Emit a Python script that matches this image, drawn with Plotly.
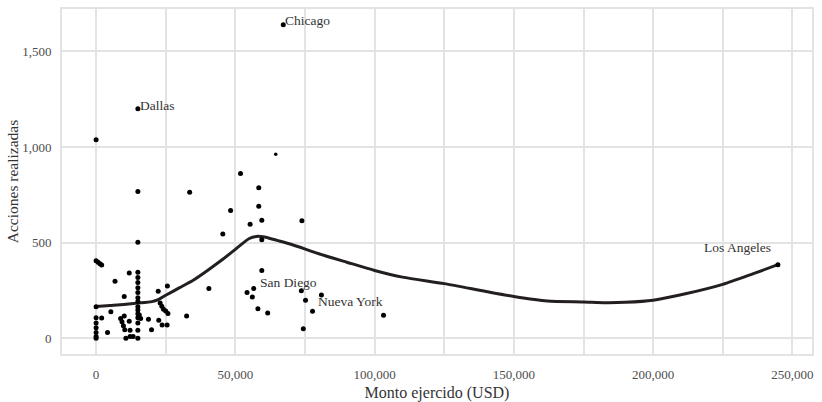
import plotly.graph_objects as go

# Scatter data: monto ejercido (USD) vs acciones realizadas
monto = [
    0, 0, 700, 1400, 2000, 0, 0, 0, 0, 0, 0, 0,
    2000, 4100, 5300, 6800, 10100, 11900,
    8800, 9300, 9800, 10300, 10100, 11900, 12200, 10700, 12200, 13300,
    15000, 15000, 15000, 15000, 15000, 15000, 15000, 15000, 15000, 15000,
    15000, 15000, 15000, 15000, 15000, 15000, 15000,
    15500, 16000,
    18800, 19900, 22500, 22300, 23700, 25500, 25600,
    23000, 23600, 24200, 25000, 25800,
    32500, 33600, 40500, 45500, 48300, 51850, 55300, 54200, 56600, 56100,
    58400, 58400, 59500, 59500, 59500, 58100, 61600, 67200,
    73900, 73700, 75200, 80900, 77700, 74400, 103200, 244800,
]
acciones = [
    1038, 405, 398, 390, 383, 165, 108, 80, 55, 30, 10, 0,
    106, 30, 139, 299, 219, 341,
    103, 86, 66, 45, 117, 89, 42, 0, 10, 10,
    1200, 768, 502, 345, 318, 292, 265, 240, 212, 192,
    165, 148, 128, 108, 80, 42, 0,
    122, 103,
    100, 45, 94, 246, 70, 70, 273,
    185, 168, 152, 143, 130,
    117, 764, 261, 545, 669, 862, 596, 239, 261, 216,
    787, 690, 618, 516, 355, 155, 132, 1640,
    615, 249, 199, 226, 141, 50, 120, 385,
]
# one smaller point
monto_small = [64500]
acciones_small = [963]

# Smoothed trend
smooth_x = [0, 5000, 10000, 15000, 20000, 22500, 25000, 30000, 35000, 40000,
            45000, 50000, 55000, 57500, 60000, 65000, 70000, 80000, 90000,
            100000, 110000, 125000, 140000, 150000, 162000, 175000, 183000,
            190000, 200000, 212000, 225000, 236000, 244800]
smooth_y = [167, 172, 177, 184, 192, 204, 225, 265, 305, 355,
            408, 465, 522, 533, 531, 512, 492, 442, 398,
            355, 320, 286, 245, 219, 195, 190, 186,
            188, 199, 234, 282, 338, 385]

# Labelled cities
ciudades = ["Chicago", "Dallas", "San Diego", "Nueva York", "Los Angeles"]
ciudad_x = [67200, 15000, 59500, 80900, 244800]
ciudad_y = [1640, 1200, 355, 226, 385]

x_ticks = [0, 50000, 100000, 150000, 200000, 250000]
y_ticks = [0, 500, 1000, 1500]

FONT = "Liberation Serif"
GRID = "#e3e3e3"

fig = go.Figure()
fig.add_trace(go.Scatter(x=smooth_x, y=smooth_y, mode="lines",
                         line=dict(color="#231f20", width=3, shape="spline", smoothing=0.7),
                         hoverinfo="skip", showlegend=False))
fig.add_trace(go.Scatter(x=monto, y=acciones, mode="markers",
                         marker=dict(color="black", size=5), showlegend=False))
fig.add_trace(go.Scatter(x=monto_small, y=acciones_small, mode="markers",
                         marker=dict(color="black", size=3.5), showlegend=False))

label_style = {
    "Chicago": dict(xanchor="left", yanchor="bottom", xshift=0, yshift=-5),
    "Dallas": dict(xanchor="left", yanchor="bottom", xshift=0, yshift=-6),
    "San Diego": dict(xanchor="left", yanchor="top", xshift=-4, yshift=-3),
    "Nueva York": dict(xanchor="left", yanchor="top", xshift=-5, yshift=3),
    "Los Angeles": dict(xanchor="right", yanchor="bottom", xshift=-5, yshift=8),
}
for name, cx, cy in zip(ciudades, ciudad_x, ciudad_y):
    fig.add_annotation(x=cx, y=cy, text=name, showarrow=False,
                       font=dict(family=FONT, size=13.5, color="#333333"),
                       **label_style[name])

fig.update_layout(
    width=822, height=402,
    margin=dict(l=62, r=10, t=9, b=48),
    paper_bgcolor="white", plot_bgcolor="white",
    font=dict(family=FONT, size=13, color="#4d4d4d"),
    xaxis=dict(
        range=[-12240, 257040], tickvals=x_ticks, tickformat=",",
        showgrid=True, gridcolor=GRID, gridwidth=1.6, zeroline=False,
        minor=dict(dtick=25000, tick0=0, showgrid=True, gridcolor=GRID, gridwidth=1.6),
        showline=True, mirror=True, linecolor=GRID, linewidth=1.6,
        ticks="", ticklabelstandoff=8, automargin=False,
        tickfont=dict(family=FONT, size=13, color="#4d4d4d"),
        title=dict(text="Monto ejercido (USD)", standoff=8,
                   font=dict(family=FONT, size=16, color="#333333")),
    ),
    yaxis=dict(
        range=[-82, 1722], tickvals=y_ticks, tickformat=",",
        showgrid=True, gridcolor=GRID, gridwidth=1.6, zeroline=False,
        showline=True, mirror=True, linecolor=GRID, linewidth=1.6,
        ticks="", ticklabelstandoff=6, automargin=False,
        tickfont=dict(family=FONT, size=13, color="#4d4d4d"),
        title=dict(text="Acciones realizadas", standoff=0,
                   font=dict(family=FONT, size=15.5, color="#333333")),
    ),
)

fig.write_html("out.html", config={"displayModeBar": False},
               post_script="document.body.style.margin='0';document.body.style.overflow='hidden';")
